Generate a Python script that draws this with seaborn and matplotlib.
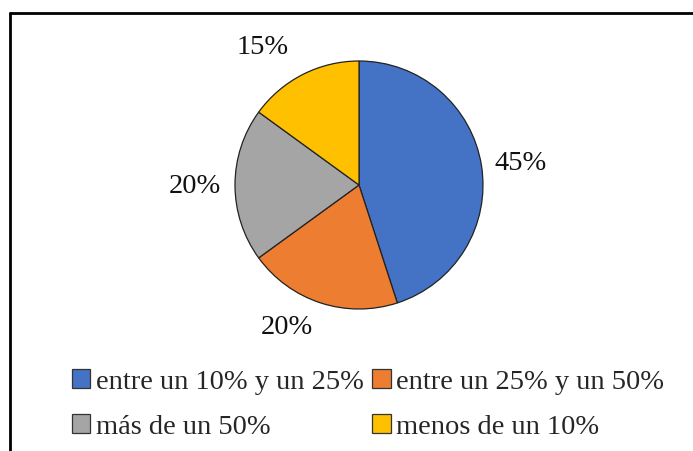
import matplotlib
matplotlib.use("Agg")
import matplotlib.pyplot as plt
from matplotlib.lines import Line2D
from matplotlib.patches import Patch
import numpy as np
import seaborn as sns

sns.set_theme(style="white")
plt.rcParams["font.family"] = ["Liberation Serif", "DejaVu Serif"]

categories = ["entre un 10% y un 25%", "entre un 25% y un 50%",
              "más de un 50%", "menos de un 10%"]
shares = [45, 20, 20, 15]
colors = sns.color_palette(["#4472C4", "#ED7D31", "#A5A5A5", "#FFC000"])

W, H = 693, 452
fig = plt.figure(figsize=(W / 100, H / 100), dpi=100)

# pie axes: centre ~(359, 186) px, radius ~124 px
cx, cy, r = 359, 186, 124
ax = fig.add_axes([(cx - r) / W, 1 - (cy + r) / H, 2 * r / W, 2 * r / H])
wedges, _, pcts = ax.pie(shares, colors=colors, startangle=90, counterclock=False,
                         autopct="%d%%", pctdistance=1.32,
                         wedgeprops=dict(edgecolor="#222222", linewidth=0.9),
                         textprops=dict(fontsize=20.5, color="#111111"))

# nudge labels a little around the circle, like the office chart does
shift = [-1, -9, 0, 8]
dist = [1.32, 1.28, 1.32, 1.36]
for w, t, s, d in zip(wedges, pcts, shift, dist):
    ang = np.deg2rad((w.theta1 + w.theta2) / 2 + s)
    t.set_position((d * np.cos(ang), d * np.sin(ang)))

ax.set_xlim(-1, 1)
ax.set_ylim(-1, 1)
ax.set_aspect("equal")
ax.axis("off")

order = [0, 2, 1, 3]  # legend fills column-wise; keep row order of the original
handles = [Patch(facecolor=colors[i], edgecolor="#333333", linewidth=0.9) for i in order]
fig.legend(handles, [categories[i] for i in order], loc="center", ncol=2,
           bbox_to_anchor=(368 / W, 1 - 405 / H), frameon=False,
           fontsize=20.5, handlelength=0.65, handleheight=0.65,
           handletextpad=0.2, columnspacing=0.3, labelspacing=0.68)

# frame: left and top edges only
fig.add_artist(Line2D([10 / W, 10 / W], [0, 1 - 14 / H],
                      transform=fig.transFigure, color="black", linewidth=2))
fig.add_artist(Line2D([10 / W, 1], [1 - 14 / H, 1 - 14 / H],
                      transform=fig.transFigure, color="black", linewidth=2))

fig.savefig("out.png", dpi=100)
